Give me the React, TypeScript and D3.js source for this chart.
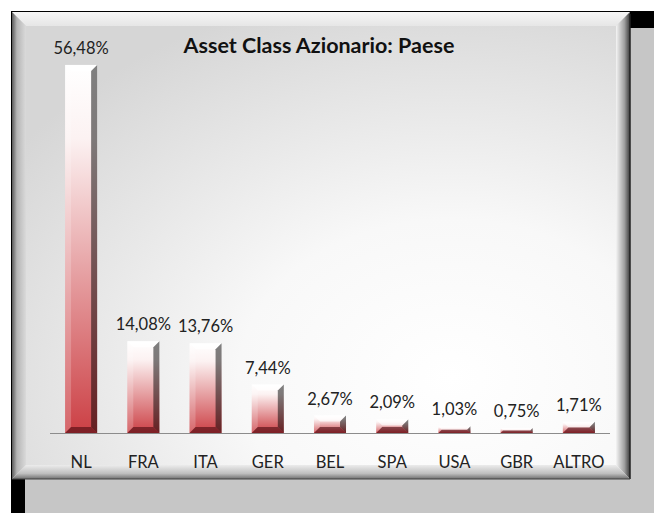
import React from 'react';
import * as d3 from 'd3';

const categories = ['NL', 'FRA', 'ITA', 'GER', 'BEL', 'SPA', 'USA', 'GBR', 'ALTRO'];
const values = [56.48, 14.08, 13.76, 7.44, 2.67, 2.09, 1.03, 0.75, 1.71];
const title = 'Asset Class Azionario: Paese';

const W = 654;
const H = 513;
const FONT = 'Lato, "Open Sans", sans-serif';

// panel frame
const px0 = 12, py0 = 12, px1 = 630, py1 = 479, bv = 14;

const itLocale = d3.formatLocale({ decimal: ',', thousands: '.', grouping: [3], currency: ['', ' €'] });
const fmt = (v: number) => itLocale.format('.2f')(v) + '%';

const App = () => {
  const x = d3.scaleBand<string>().domain(categories).range([50, 610]).paddingInner(0.485).paddingOuter(0.2425);
  const y = d3.scaleLinear().domain([0, 60]).range([433, 42]);
  const bw = x.bandwidth();

  const poly = (pts: number[][]) => pts.map(p => p.join(',')).join(' ');

  return (
    <svg width={W} height={H} style={{ position: 'absolute', left: 0, top: 0 }}>
      <defs>
        <radialGradient id="bg" cx="0.72" cy="0.8" r="0.9">
          <stop offset="0" stopColor="#ffffff" />
          <stop offset="0.4" stopColor="#f8f8f8" />
          <stop offset="1" stopColor="#d6d6d6" />
        </radialGradient>
        <linearGradient id="bvTop" x1="0" y1="0" x2="0" y2="1">
          <stop offset="0" stopColor="#f6f6f6" />
          <stop offset="1" stopColor="#e6e6e6" />
        </linearGradient>
        <linearGradient id="bvLeft" x1="0" y1="0" x2="1" y2="0">
          <stop offset="0" stopColor="#5a5a5a" />
          <stop offset="0.35" stopColor="#b5b5b5" />
          <stop offset="1" stopColor="#dadada" />
        </linearGradient>
        <linearGradient id="bvRight" x1="0" y1="0" x2="1" y2="0">
          <stop offset="0" stopColor="#f4f4f4" />
          <stop offset="0.6" stopColor="#a0a0a0" />
          <stop offset="1" stopColor="#3a3a3a" />
        </linearGradient>
        <linearGradient id="bvBottom" x1="0" y1="0" x2="0" y2="1">
          <stop offset="0" stopColor="#ececec" />
          <stop offset="0.6" stopColor="#c0c0c0" />
          <stop offset="1" stopColor="#707070" />
        </linearGradient>
        <linearGradient id="barFace" x1="0" y1="0" x2="0" y2="1">
          <stop offset="0" stopColor="#ffffff" />
          <stop offset="0.2" stopColor="#fcf2f2" />
          <stop offset="1" stopColor="#cc4045" />
        </linearGradient>
      </defs>

      {/* backdrop: black then gray offset */}
      <rect x={11} y={11} width={W - 11} height={H - 11} fill="#000" />
      <rect x={25} y={28} width={W - 25} height={H - 28} fill="#c6c6c6" />

      {/* beveled panel */}
      <rect x={px0} y={py0} width={px1 - px0} height={py1 - py0} fill="url(#bg)" />
      <polygon points={poly([[px0, py0], [px1, py0], [px1 - bv, py0 + bv], [px0 + bv, py0 + bv]])} fill="url(#bvTop)" />
      <polygon points={poly([[px0, py0], [px0 + bv, py0 + bv], [px0 + bv, py1 - bv], [px0, py1]])} fill="url(#bvLeft)" />
      <polygon points={poly([[px1, py0], [px1, py1], [px1 - bv, py1 - bv], [px1 - bv, py0 + bv]])} fill="url(#bvRight)" />
      <polygon points={poly([[px0, py1], [px0 + bv, py1 - bv], [px1 - bv, py1 - bv], [px1, py1]])} fill="url(#bvBottom)" />
      <rect x={px0 + bv} y={py0 + bv} width={px1 - px0 - 2 * bv} height={py1 - py0 - 2 * bv} fill="url(#bg)" />
      <line x1={px1} x2={px1} y1={py0 + 2} y2={py1} stroke="#222" strokeWidth={1.5} />
      <line x1={px0} x2={px1} y1={py1} y2={py1} stroke="#444" strokeWidth={1} />

      <text x={319} y={53} textAnchor="middle" fontFamily={FONT} fontWeight="bold" fontSize={21.5} fill="#111">{title}</text>

      {/* bars */}
      {categories.map((c, i) => {
        const x0 = x(c)!;
        const x1 = x0 + bw;
        const yt = y(values[i]);
        const yb = y(0);
        const h = yb - yt;
        const s = Math.min(6, h / 2);
        return (
          <g key={c}>
            <rect x={x0} y={yt} width={bw} height={h} fill="url(#barFace)" />
            <polygon points={poly([[x0, yt], [x1, yt], [x1 - s, yt + s], [x0 + s, yt + s]])} fill="#fff" fillOpacity={0.7} />
            <polygon points={poly([[x0, yt], [x0 + s, yt + s], [x0 + s, yb - s], [x0, yb]])} fill="#fff" fillOpacity={0.2} />
            <polygon points={poly([[x1, yt], [x1, yb], [x1 - s, yb - s], [x1 - s, yt + s]])} fill="#000" fillOpacity={0.5} />
            <polygon points={poly([[x0, yb], [x0 + s, yb - s], [x1 - s, yb - s], [x1, yb]])} fill="#4a0a10" fillOpacity={0.6} />
            <text x={x0 + bw / 2} y={yt - 11} textAnchor="middle" fontFamily={FONT} fontSize={16.5} fill="#222">{fmt(values[i])}</text>
          </g>
        );
      })}

      <line x1={50} x2={610} y1={y(0) + 0.5} y2={y(0) + 0.5} stroke="#8c8c8c" strokeWidth={1} />

      {categories.map(c => (
        <text key={c} x={x(c)! + bw / 2} y={468} textAnchor="middle" fontFamily={FONT} fontSize={16.5} fill="#222">{c}</text>
      ))}
    </svg>
  );
};

export default App;
